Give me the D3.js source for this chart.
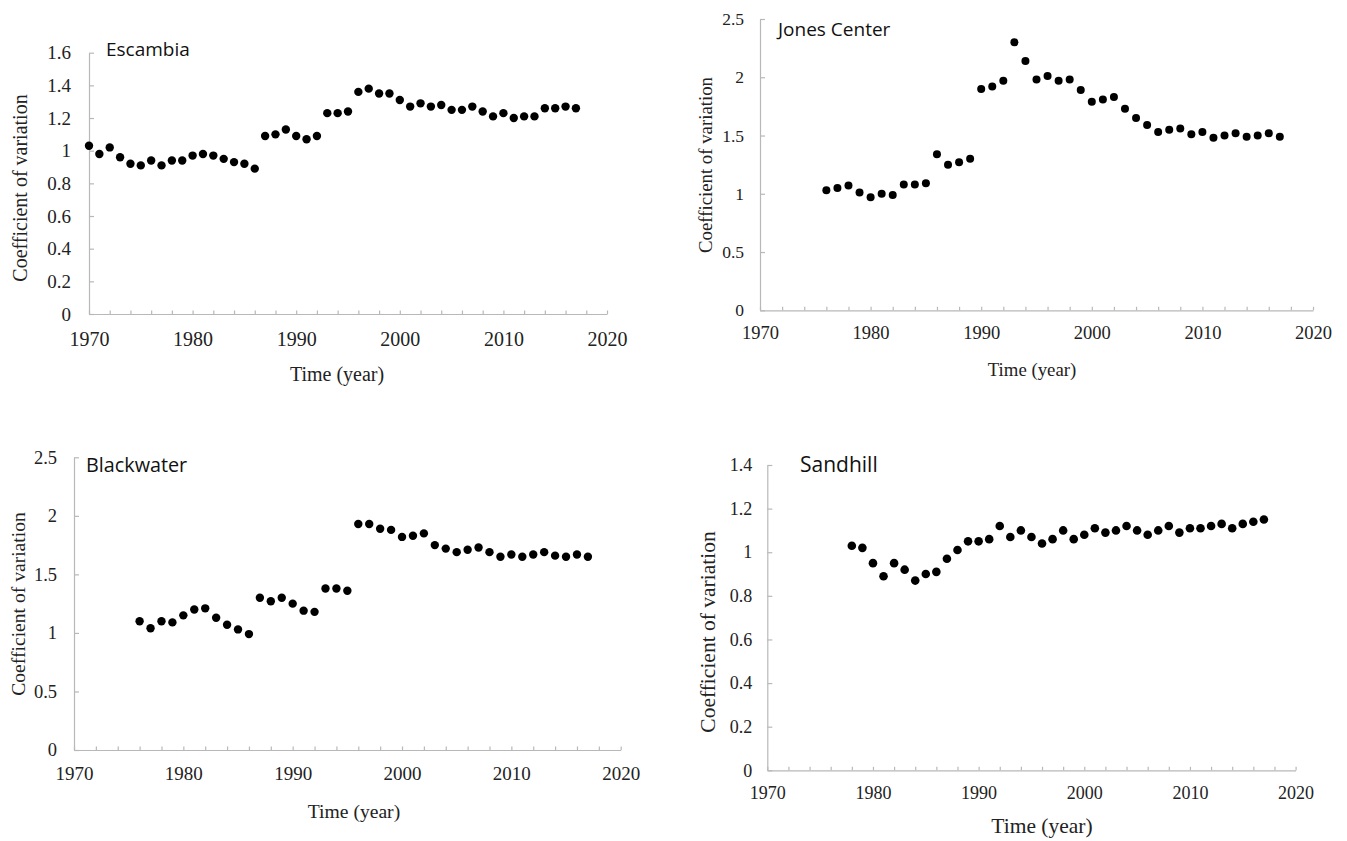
<!DOCTYPE html>
<html>
<head>
<meta charset="utf-8">
<script src="https://cdn.jsdelivr.net/npm/d3@7/dist/d3.min.js"></script>
<style>
  body { margin: 0; background: #fff; }
  svg { display: block; }
  .serif { font-family: "Liberation Serif", "Times New Roman", serif; fill: #222; }
  .panel-name { font-family: "Open Sans", "Noto Sans", sans-serif; fill: #111; }
</style>
</head>
<body>
<svg id="chart" width="1347" height="841"></svg>
<script>
// --- data ---
const xTicks = [1970, 1980, 1990, 2000, 2010, 2020];

const escambiaYTicks = [0, 0.2, 0.4, 0.6, 0.8, 1, 1.2, 1.4, 1.6];
const cvYTicks25 = [0, 0.5, 1, 1.5, 2, 2.5];
const sandhillYTicks = [0, 0.2, 0.4, 0.6, 0.8, 1, 1.2, 1.4];

const escambiaYears = [1970, 1971, 1972, 1973, 1974, 1975, 1976, 1977, 1978, 1979,
  1980, 1981, 1982, 1983, 1984, 1985, 1986, 1987, 1988, 1989,
  1990, 1991, 1992, 1993, 1994, 1995, 1996, 1997, 1998, 1999,
  2000, 2001, 2002, 2003, 2004, 2005, 2006, 2007, 2008, 2009,
  2010, 2011, 2012, 2013, 2014, 2015, 2016, 2017];
const escambiaCV = [1.03, 0.98, 1.02, 0.96, 0.92, 0.91, 0.94, 0.91, 0.94, 0.94,
  0.97, 0.98, 0.97, 0.95, 0.93, 0.92, 0.89, 1.09, 1.10, 1.13,
  1.09, 1.07, 1.09, 1.23, 1.23, 1.24, 1.36, 1.38, 1.35, 1.35,
  1.31, 1.27, 1.29, 1.27, 1.28, 1.25, 1.25, 1.27, 1.24, 1.21,
  1.23, 1.20, 1.21, 1.21, 1.26, 1.26, 1.27, 1.26];

const jonesYears = [1976, 1977, 1978, 1979, 1980, 1981, 1982, 1983, 1984, 1985,
  1986, 1987, 1988, 1989, 1990, 1991, 1992, 1993, 1994, 1995,
  1996, 1997, 1998, 1999, 2000, 2001, 2002, 2003, 2004, 2005,
  2006, 2007, 2008, 2009, 2010, 2011, 2012, 2013, 2014, 2015, 2016, 2017];
const jonesCV = [1.03, 1.05, 1.07, 1.01, 0.97, 1.00, 0.99, 1.08, 1.08, 1.09,
  1.34, 1.25, 1.27, 1.30, 1.90, 1.92, 1.97, 2.30, 2.14, 1.98,
  2.01, 1.97, 1.98, 1.89, 1.79, 1.81, 1.83, 1.73, 1.65, 1.59,
  1.53, 1.55, 1.56, 1.51, 1.53, 1.48, 1.50, 1.52, 1.49, 1.50, 1.52, 1.49];

const blackwaterYears = [1976, 1977, 1978, 1979, 1980, 1981, 1982, 1983, 1984, 1985,
  1986, 1987, 1988, 1989, 1990, 1991, 1992, 1993, 1994, 1995,
  1996, 1997, 1998, 1999, 2000, 2001, 2002, 2003, 2004, 2005,
  2006, 2007, 2008, 2009, 2010, 2011, 2012, 2013, 2014, 2015, 2016, 2017];
const blackwaterCV = [1.10, 1.04, 1.10, 1.09, 1.15, 1.20, 1.21, 1.13, 1.07, 1.03,
  0.99, 1.30, 1.27, 1.30, 1.25, 1.19, 1.18, 1.38, 1.38, 1.36,
  1.93, 1.93, 1.89, 1.88, 1.82, 1.83, 1.85, 1.75, 1.72, 1.69,
  1.71, 1.73, 1.69, 1.65, 1.67, 1.65, 1.67, 1.69, 1.66, 1.65, 1.67, 1.65];

const sandhillYears = [1978, 1979, 1980, 1981, 1982, 1983, 1984, 1985, 1986, 1987,
  1988, 1989, 1990, 1991, 1992, 1993, 1994, 1995, 1996, 1997,
  1998, 1999, 2000, 2001, 2002, 2003, 2004, 2005, 2006, 2007,
  2008, 2009, 2010, 2011, 2012, 2013, 2014, 2015, 2016, 2017];
const sandhillCV = [1.03, 1.02, 0.95, 0.89, 0.95, 0.92, 0.87, 0.90, 0.91, 0.97,
  1.01, 1.05, 1.05, 1.06, 1.12, 1.07, 1.10, 1.07, 1.04, 1.06,
  1.10, 1.06, 1.08, 1.11, 1.09, 1.10, 1.12, 1.10, 1.08, 1.10,
  1.12, 1.09, 1.11, 1.11, 1.12, 1.13, 1.11, 1.13, 1.14, 1.15];

// --- panel layout (pixel boxes of each plot area) ---
const panels = [
  { name: 'Escambia', years: escambiaYears, cv: escambiaCV, yTicks: escambiaYTicks, yMax: 1.6,
    x0: 89, x1: 607, yTop: 52.7, yBot: 314, r: 4.2,
    yLabelSize: 19, yPad: 18, xLabelSize: 20, xPad: 17.8,
    titleSize: 20, yTitleX: 20, yTitleY: 188, xTitleX: 337, xTitleY: 381,
    nameX: 106, nameY: 56, nameSize: 19 },
  { name: 'Jones Center', years: jonesYears, cv: jonesCV, yTicks: cvYTicks25, yMax: 2.5,
    x0: 760, x1: 1313, yTop: 19, yBot: 310.3, r: 4,
    yLabelSize: 17.5, yPad: 16, xLabelSize: 18.5, xPad: 15.9,
    titleSize: 18.8, yTitleX: 705, yTitleY: 165, xTitleX: 1032, xTitleY: 376,
    nameX: 778, nameY: 36, nameSize: 19 },
  { name: 'Blackwater', years: blackwaterYears, cv: blackwaterCV, yTicks: cvYTicks25, yMax: 2.5,
    x0: 74, x1: 620.7, yTop: 457.3, yBot: 750, r: 4.2,
    yLabelSize: 18.5, yPad: 17, xLabelSize: 19, xPad: 16.5,
    titleSize: 19.6, yTitleX: 18, yTitleY: 604, xTitleX: 354, xTitleY: 818,
    nameX: 86, nameY: 472, nameSize: 19.8 },
  { name: 'Sandhill', years: sandhillYears, cv: sandhillCV, yTicks: sandhillYTicks, yMax: 1.4,
    x0: 767.3, x1: 1295.6, yTop: 465, yBot: 770.3, r: 4.3,
    yLabelSize: 18, yPad: 15, xLabelSize: 18, xPad: 16.2,
    titleSize: 21.5, yTitleX: 707, yTitleY: 632, xTitleX: 1042, xTitleY: 833,
    nameX: 800, nameY: 472, nameSize: 21 }
];

const axisColor = '#b8b8b8';
const svg = d3.select('#chart');

panels.forEach(p => {
  const x = d3.scaleLinear().domain([1970, 2020]).range([p.x0, p.x1]);
  const y = d3.scaleLinear().domain([0, p.yMax]).range([p.yBot, p.yTop]);
  const g = svg.append('g');

  // minor ticks every 2 years, pointing up into the plot
  g.append('g').attr('transform', `translate(0,${p.yBot})`)
    .call(d3.axisBottom(x).tickValues(d3.range(1970, 2021, 2)).tickFormat('')
      .tickSizeInner(-3.5).tickSizeOuter(0))
    .call(a => a.selectAll('.domain, .tick line').attr('stroke', axisColor).attr('stroke-width', 1.2));

  // year labels
  g.append('g').attr('transform', `translate(0,${p.yBot})`)
    .call(d3.axisBottom(x).tickValues(xTicks).tickFormat(d3.format('d'))
      .tickSize(0).tickPadding(p.xPad))
    .call(a => a.select('.domain').remove())
    .call(a => a.selectAll('text').attr('class', 'serif').attr('fill', null)
      .style('font-size', p.xLabelSize + 'px'));

  // y axis, ticks pointing right
  g.append('g').attr('transform', `translate(${p.x0},0)`)
    .call(d3.axisLeft(y).tickValues(p.yTicks).tickFormat(d => String(d))
      .tickSizeInner(-5).tickSizeOuter(0).tickPadding(p.yPad))
    .call(a => a.selectAll('.domain, .tick line').attr('stroke', axisColor).attr('stroke-width', 1.2))
    .call(a => a.selectAll('text').attr('class', 'serif').attr('fill', null)
      .style('font-size', p.yLabelSize + 'px'));

  // points
  g.append('g').selectAll('circle')
    .data(p.years.map((yr, i) => ({ yr, v: p.cv[i] })))
    .join('circle')
    .attr('cx', d => x(d.yr))
    .attr('cy', d => y(d.v))
    .attr('r', p.r)
    .attr('fill', '#000');

  // axis titles
  g.append('text').attr('class', 'serif')
    .attr('transform', `translate(${p.yTitleX},${p.yTitleY}) rotate(-90)`)
    .attr('text-anchor', 'middle').attr('dy', '0.35em')
    .style('font-size', p.titleSize + 'px')
    .text('Coefficient of variation');
  g.append('text').attr('class', 'serif')
    .attr('x', p.xTitleX).attr('y', p.xTitleY)
    .attr('text-anchor', 'middle')
    .style('font-size', p.titleSize + 'px')
    .text('Time (year)');

  // panel name
  g.append('text').attr('class', 'panel-name')
    .attr('x', p.nameX).attr('y', p.nameY)
    .style('font-size', p.nameSize + 'px')
    .text(p.name);
});
</script>
</body>
</html>
